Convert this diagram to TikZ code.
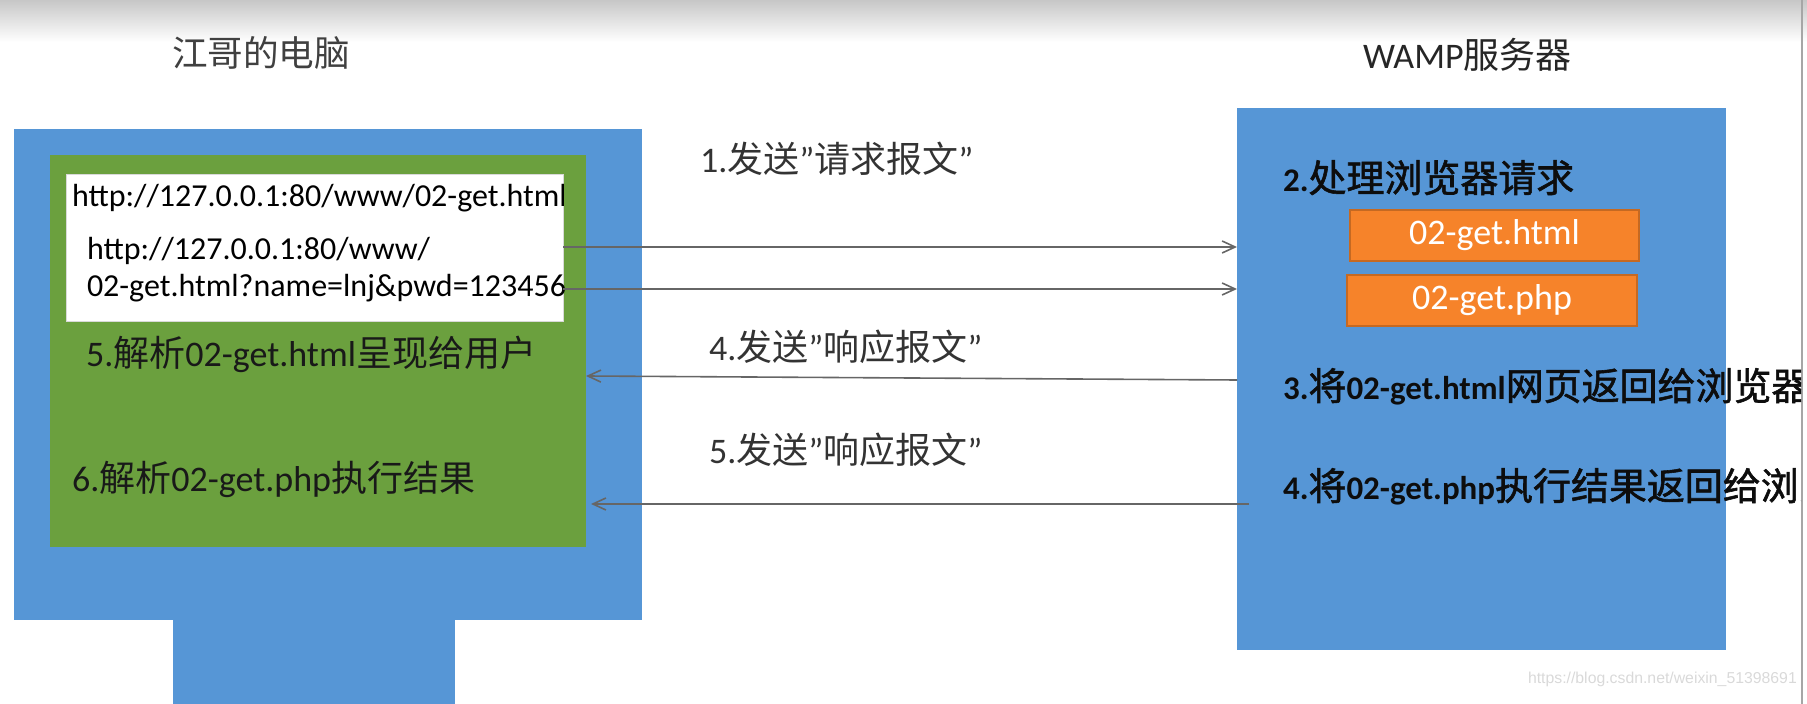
\documentclass[tikz,border=0pt]{standalone}
\usepackage{fontspec}
\setmainfont{Carlito}
\newfontfamily\cjk{Noto Sans CJK SC}
\newfontfamily\cjkbig[Scale=1.15,FakeBold=1.5]{Noto Sans CJK SC}
\newfontfamily\wmfont{Liberation Sans}
\usetikzlibrary{arrows.meta,fit,positioning}
\newcommand\zh[1]{{\cjk #1}}
\newcommand\zhb[1]{{\mdseries\cjkbig #1}}
\definecolor{pcblue}{RGB}{86,150,214}
\definecolor{pcgreen}{RGB}{107,160,62}
\definecolor{fileorange}{RGB}{246,131,42}
\tikzset{
  panel/.style={inner sep=0pt, outer sep=0pt},
  txt/.style={anchor=base west, inner sep=0pt, outer sep=0pt},
  urltxt/.style={txt, font=\fontsize{16}{18.5}\selectfont},
  pctxt/.style={txt, text=black!90, font=\fontsize{18}{20}\selectfont},
  msgtxt/.style={txt, text=black!80, font=\fontsize{18}{20}\selectfont},
  srvtxt/.style={txt, text=black!95, font=\bfseries\fontsize{16.5}{20}\selectfont},
  filebox/.style={panel, fill=fileorange, draw=fileorange!80!black, line width=0.6pt},
  filetxt/.style={text=white, font=\fontsize{18}{20}\selectfont},
  msg/.style={draw=black!60, line width=0.8pt, -{Straight Barb[length=6.5pt,width=6pt]}},
}
\begin{document}
\begin{tikzpicture}[x=0.5pt,y=-0.5pt]
  \useasboundingbox (0,0) rectangle (1807,704);
  \shade[top color=black!22, bottom color=white] (0,0) rectangle (1807,42);
  \draw[black!35, line width=1pt] (1802,0) -- (1802,704);

  % the computer
  \node[panel, fill=pcblue, fit={(14,129) (642,620)}] (pc) {};
  \node[panel, fill=pcblue, fit={(173,620) (455,704)}] (stand) {};
  \node[panel, fill=pcgreen, fit={(50,155) (586,547)}] (screen) {};
  \node[panel, fill=white, draw=black!15, line width=0.5pt, fit={(66,175) (563,322)}] (url) {};
  \node[txt, text=black!75, font=\cjk\fontsize{17.8}{20}\selectfont] (pctitle) at (172,67) {江哥的电脑};
  \begin{scope}
    \clip (url.north west) rectangle (url.south east);
    \node[urltxt] (url1) at (72,207) {http://127.0.0.1:80/www/02-get.html};
  \end{scope}
  \node[urltxt] (url2) at (87,260) {http://127.0.0.1:80/www/};
  \node[urltxt] (url3) at (87,297) {02-get.html?name=lnj\&pwd=123456};
  \node[pctxt] (show) at (86,367) {5.\zh{解析}02-get.html\zh{呈现给用户}};
  \node[pctxt] (parse) at (72,492) {6.\zh{解析}02-get.php\zh{执行结果}};

  % the server
  \node[panel, fill=pcblue, fit={(1237,108) (1726,650)}] (srv) {};
  \node[txt, text=black!85, font=\fontsize{18}{20}\selectfont] (srvtitle) at (1363,69) {WAMP\zh{服务器}};
  \node[filebox, fit={(1350,210) (1639,261)}, label={[filetxt]center:02-get.html}] (html) {};
  \node[filebox, fit={(1347,275) (1637,326)}, label={[filetxt]center:02-get.php}] (php) {};
  \node[srvtxt] (handle) at (1283,192) {2.\zhb{处理浏览器请求}};
  \begin{scope}
    \clip (1230,0) rectangle (1801,704);
    \node[srvtxt] (back1) at (1283,400) {3.\zhb{将}02-get.html\zhb{网页返回给浏览器}};
    \node[srvtxt] (back2) at (1283,500) {4.\zhb{将}02-get.php\zhb{执行结果返回给浏览器}};
  \end{scope}

  % messages
  \node[msgtxt] (req) at (700,173) {1.\zh{发送}”\zh{请求报文}”};
  \node[msgtxt] (resp1) at (709,361) {4.\zh{发送}”\zh{响应报文}”};
  \node[msgtxt] (resp2) at (709,464) {5.\zh{发送}”\zh{响应报文}”};
  \draw[msg] (url.east |- 0,247) -- (srv.west |- 0,247);
  \draw[msg] (url.east |- 0,289) -- (srv.west |- 0,289);
  \draw[msg] (srv.west |- 0,380) -- (screen.east |- 0,376);
  \coordinate (ret2) at (1249,504);
  \draw[msg, shorten >=2.5pt] (ret2) -- (screen.east |- ret2);

  \node[txt, text=black!15, font=\wmfont\fontsize{7.9}{9}\selectfont] (mark) at (1528,683) {https://blog.csdn.net/weixin\_51398691};
\end{tikzpicture}
\end{document}
